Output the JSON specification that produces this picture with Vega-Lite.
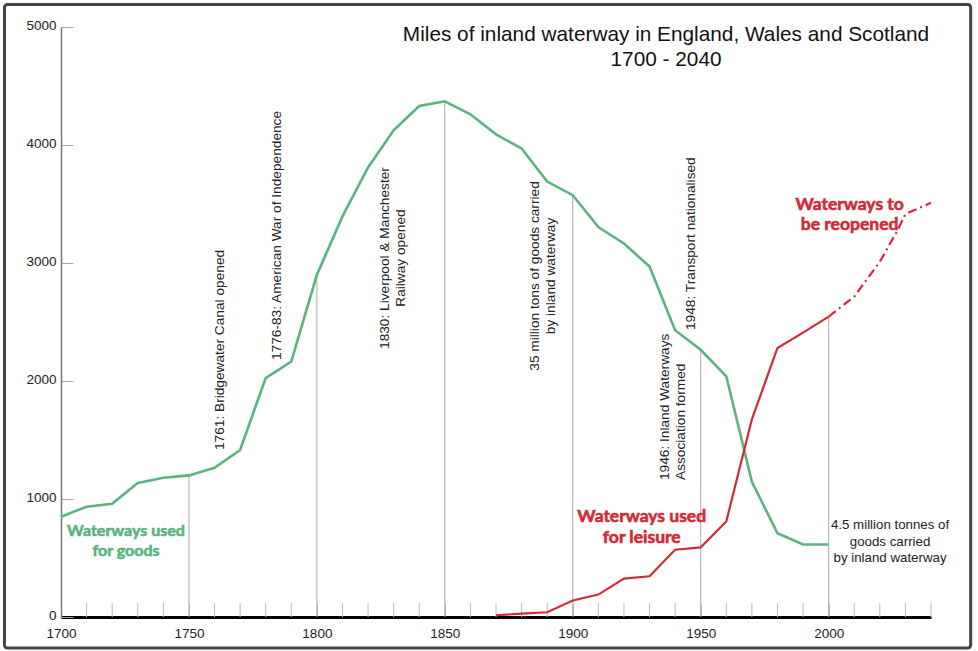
{
  "$schema": "https://vega.github.io/schema/vega-lite/v6.json",
  "width": 870,
  "height": 590,
  "autosize": {"type": "none"},
  "padding": {"left": 61, "top": 27, "right": 47, "bottom": 34},
  "background": "white",
  "config": {
    "view": {"stroke": null},
    "font": "Liberation Sans",
    "axisX": {"labelFlush": false},
    "axisY": {"labelFlush": false}
  },
  "title": {
    "text": ["Miles of inland waterway in England, Wales and Scotland", "1700 - 2040"],
    "font": "Liberation Sans",
    "fontSize": 20.8,
    "fontWeight": "normal",
    "color": "#111",
    "anchor": "middle",
    "frame": "group",
    "dx": 170,
    "dy": 68,
    "offset": 0,
    "lineHeight": 25
  },
  "datasets": {
    "goods": [
      {"year": 1700, "value": 850}, {"year": 1710, "value": 935}, {"year": 1720, "value": 960},
      {"year": 1730, "value": 1135}, {"year": 1740, "value": 1180}, {"year": 1750, "value": 1200},
      {"year": 1760, "value": 1265}, {"year": 1770, "value": 1415}, {"year": 1780, "value": 2025},
      {"year": 1790, "value": 2165}, {"year": 1800, "value": 2900}, {"year": 1810, "value": 3395},
      {"year": 1820, "value": 3810}, {"year": 1830, "value": 4125}, {"year": 1840, "value": 4330},
      {"year": 1850, "value": 4370}, {"year": 1860, "value": 4260}, {"year": 1870, "value": 4090},
      {"year": 1880, "value": 3970}, {"year": 1890, "value": 3690}, {"year": 1900, "value": 3575},
      {"year": 1910, "value": 3305}, {"year": 1920, "value": 3165}, {"year": 1930, "value": 2970},
      {"year": 1940, "value": 2430}, {"year": 1950, "value": 2265}, {"year": 1960, "value": 2040},
      {"year": 1970, "value": 1145}, {"year": 1980, "value": 710}, {"year": 1990, "value": 615},
      {"year": 2000, "value": 615}
    ],
    "leisure": [
      {"year": 1870, "value": 15}, {"year": 1880, "value": 28}, {"year": 1890, "value": 40},
      {"year": 1900, "value": 140}, {"year": 1910, "value": 190}, {"year": 1920, "value": 325},
      {"year": 1930, "value": 345}, {"year": 1940, "value": 570}, {"year": 1950, "value": 590},
      {"year": 1960, "value": 810}, {"year": 1970, "value": 1675}, {"year": 1980, "value": 2280},
      {"year": 1990, "value": 2410}, {"year": 2000, "value": 2545}
    ],
    "reopen": [
      {"year": 2000, "value": 2545}, {"year": 2010, "value": 2715}, {"year": 2020, "value": 3010},
      {"year": 2027, "value": 3280}, {"year": 2030, "value": 3415}, {"year": 2040, "value": 3510}
    ],
    "rules": [
      {"year": 1750, "value": 1200}, {"year": 1800, "value": 2900}, {"year": 1850, "value": 4370},
      {"year": 1900, "value": 3575}, {"year": 1950, "value": 2265}, {"year": 2000, "value": 2545}
    ],
    "minorTicks": [
      {"year": 1710}, {"year": 1720}, {"year": 1730}, {"year": 1740}, {"year": 1760}, {"year": 1770},
      {"year": 1780}, {"year": 1790}, {"year": 1810}, {"year": 1820}, {"year": 1830}, {"year": 1840},
      {"year": 1860}, {"year": 1870}, {"year": 1880}, {"year": 1890}, {"year": 1910}, {"year": 1920},
      {"year": 1930}, {"year": 1940}, {"year": 1960}, {"year": 1970}, {"year": 1980}, {"year": 1990},
      {"year": 2010}, {"year": 2020}, {"year": 2030}, {"year": 2040}
    ],
    "eventsStart": [
      {"year": 1762.1, "value": 1415, "text": "1761: Bridgewater Canal opened"},
      {"year": 1784.4, "value": 2178, "text": "1776-83: American War of Independence"},
      {"year": 1935.9, "value": 1161, "text": "1946: Inland Waterways\nAssociation formed"},
      {"year": 1946.4, "value": 2432, "text": "1948: Transport nationalised"}
    ],
    "eventsCenter": [
      {"year": 1826.6, "value": 3042, "text": "1830: Liverpool & Manchester\nRailway opened"},
      {"year": 1885.2, "value": 2890, "text": "35 million tons of goods carried\nby inland waterway"}
    ],
    "greenLabel": [
      {"year": 1725.4, "value": 731, "text": "Waterways used\nfor goods"}
    ],
    "redLabels": [
      {"year": 1926.95, "value": 847, "text": "Waterways used\nfor leisure"},
      {"year": 2008.2, "value": 3492, "text": "Waterways to\nbe reopened"}
    ],
    "note": [
      {"year": 2024.0, "value": 780, "text": "4.5 million tonnes of\ngoods carried\nby inland waterway"}
    ]
  },
  "layer": [
    {
      "data": {"name": "rules"},
      "mark": {"type": "rule", "color": "#aaaaaa", "strokeWidth": 1},
      "encoding": {
        "x": {
          "field": "year",
          "type": "quantitative",
          "scale": {"domain": [1700, 2040], "nice": false, "zero": false},
          "axis": {
            "title": null,
            "values": [1700, 1750, 1800, 1850, 1900, 1950, 2000],
            "format": "d",
            "labelFlush": false,
            "labelOverlap": false,
            "labelFont": "Liberation Sans",
            "labelFontSize": 13.5,
            "labelColor": "#222",
            "labelPadding": 23,
            "domainColor": "#000000",
            "domainWidth": 3,
            "tickColor": "#bbbbbb",
            "tickWidth": 1,
            "tickSize": -14,
            "grid": false
          }
        },
        "y": {
          "field": "value",
          "type": "quantitative",
          "scale": {"domain": [0, 5000], "nice": false},
          "axis": {
            "title": null,
            "values": [0, 1000, 2000, 3000, 4000, 5000],
            "format": "d",
            "labelFlush": false,
            "labelFont": "Liberation Sans",
            "labelFontSize": 13.5,
            "labelColor": "#222",
            "labelPadding": 17,
            "labelOffset": -2,
            "domainColor": "#777777",
            "domainWidth": 1.5,
            "tickColor": "#aaaaaa",
            "tickWidth": 1,
            "tickSize": -12,
            "grid": false
          }
        },
        "y2": {"datum": 0}
      }
    },
    {
      "data": {"name": "minorTicks"},
      "mark": {"type": "rule", "color": "#bbbbbb", "strokeWidth": 1},
      "encoding": {
        "x": {"field": "year", "type": "quantitative"},
        "y": {"datum": 0},
        "y2": {"datum": 119}
      }
    },
    {
      "data": {"name": "goods"},
      "mark": {"type": "line", "color": "#5bb37f", "strokeWidth": 2.6},
      "encoding": {
        "x": {"field": "year", "type": "quantitative"},
        "y": {"field": "value", "type": "quantitative"}
      }
    },
    {
      "data": {"name": "leisure"},
      "mark": {"type": "line", "color": "#d12a36", "strokeWidth": 2.2},
      "encoding": {
        "x": {"field": "year", "type": "quantitative"},
        "y": {"field": "value", "type": "quantitative"}
      }
    },
    {
      "data": {"name": "reopen"},
      "mark": {"type": "line", "color": "#d12a36", "strokeWidth": 2.2, "strokeDash": [9, 4, 2, 4]},
      "encoding": {
        "x": {"field": "year", "type": "quantitative"},
        "y": {"field": "value", "type": "quantitative"}
      }
    },
    {
      "data": {"name": "eventsStart"},
      "mark": {"type": "text", "angle": 270, "align": "left", "baseline": "middle", "font": "Liberation Sans", "fontSize": 13.7, "color": "#222", "lineHeight": 16.5, "lineBreak": "\n"},
      "encoding": {
        "x": {"field": "year", "type": "quantitative"},
        "y": {"field": "value", "type": "quantitative"},
        "text": {"field": "text"}
      }
    },
    {
      "data": {"name": "eventsCenter"},
      "mark": {"type": "text", "angle": 270, "align": "center", "baseline": "middle", "font": "Liberation Sans", "fontSize": 13.7, "color": "#222", "lineHeight": 16.5, "lineBreak": "\n"},
      "encoding": {
        "x": {"field": "year", "type": "quantitative"},
        "y": {"field": "value", "type": "quantitative"},
        "text": {"field": "text"}
      }
    },
    {
      "data": {"name": "greenLabel"},
      "mark": {"type": "text", "align": "center", "baseline": "middle", "font": "Lato", "fontWeight": "bold", "fontSize": 16, "color": "#5bb37f", "stroke": "#5bb37f", "strokeWidth": 0.6, "lineHeight": 20, "lineBreak": "\n"},
      "encoding": {
        "x": {"field": "year", "type": "quantitative"},
        "y": {"field": "value", "type": "quantitative"},
        "text": {"field": "text"}
      }
    },
    {
      "data": {"name": "redLabels"},
      "mark": {"type": "text", "align": "center", "baseline": "middle", "font": "Lato", "fontWeight": "bold", "fontSize": 17.5, "color": "#d12a36", "stroke": "#d12a36", "strokeWidth": 0.6, "lineHeight": 20.5, "lineBreak": "\n"},
      "encoding": {
        "x": {"field": "year", "type": "quantitative"},
        "y": {"field": "value", "type": "quantitative"},
        "text": {"field": "text"}
      }
    },
    {
      "data": {"name": "note"},
      "mark": {"type": "text", "align": "center", "baseline": "middle", "font": "Liberation Sans", "fontSize": 13.3, "color": "#222", "lineHeight": 16.7, "lineBreak": "\n"},
      "encoding": {
        "x": {"field": "year", "type": "quantitative"},
        "y": {"field": "value", "type": "quantitative"},
        "text": {"field": "text"}
      }
    },
    {
      "data": {"values": [{}]},
      "mark": {"type": "rect", "filled": false, "color": "#444444", "strokeWidth": 3, "cornerRadius": 3},
      "encoding": {
        "x": {"datum": 1677.9},
        "x2": {"datum": 2055.5},
        "y": {"datum": -262.7},
        "y2": {"datum": 5190.7}
      }
    }
  ]
}
